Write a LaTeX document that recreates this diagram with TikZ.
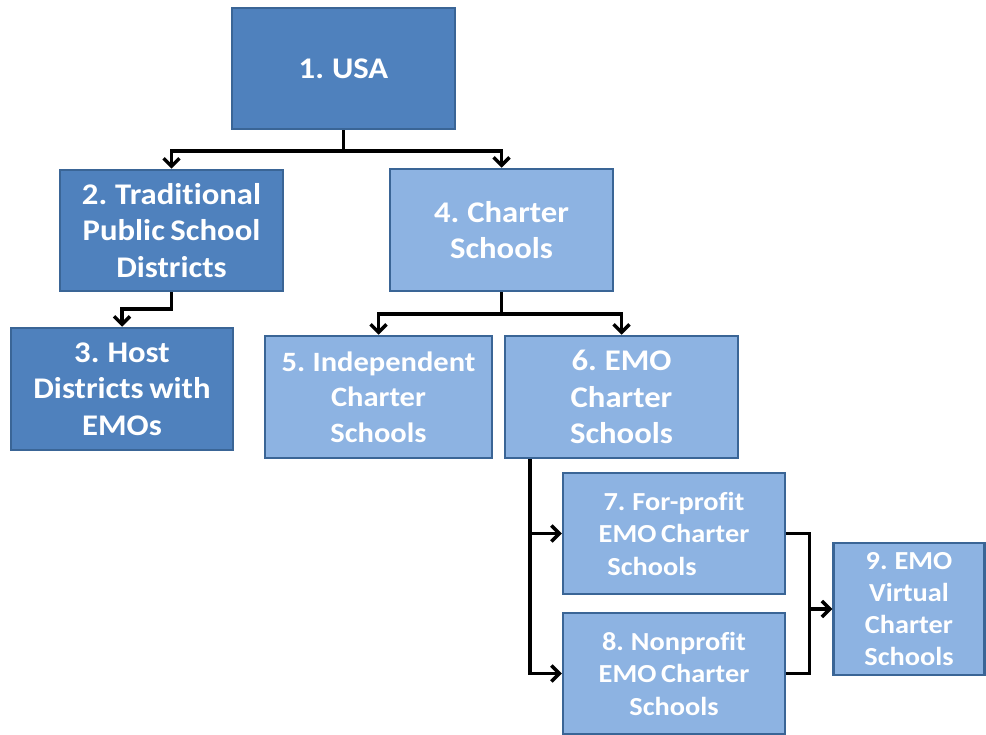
\documentclass[tikz,border=0pt]{standalone}
\usepackage{fontspec}
\setmainfont{Carlito}[Ligatures=NoCommon, FakeStretch=1.09, WordSpace=0.75]
\usetikzlibrary{arrows.meta}
\definecolor{darkfill}{HTML}{4F81BD}
\definecolor{lightfill}{HTML}{8DB3E2}
\definecolor{boxborder}{HTML}{3A6596}
\tikzset{
  box/.style={draw=boxborder, line width=2.5pt, text=white, align=center,
    font=\fontsize{30}{36.5}\selectfont\bfseries, inner sep=0pt},
  smalltext/.style={font=\fontsize{26}{32.5}\selectfont\bfseries},
  darkbox/.style={box, fill=darkfill},
  lightbox/.style={box, fill=lightfill},
  conn/.style={draw=black, line width=3.5pt},
  arr/.style={conn, -{Straight Barb[length=8pt,width=16pt,line width=3.5pt]}}
}
\begin{document}
\begin{tikzpicture}[x=1pt,y=-1pt]
\useasboundingbox (0,0) rectangle (986,735);
\node[darkbox, minimum width=223pt, minimum height=121pt] (usa) at (343.5,68.5) {1. USA};
\node[darkbox, minimum width=223pt, minimum height=121pt] (trad) at (171.5,230.5) {2. Traditional\\Public School\\Districts};
\node[darkbox, minimum width=222pt, minimum height=122pt] (host) at (122,389) {3. Host\\Districts with\\EMOs};
\node[lightbox, minimum width=223pt, minimum height=122pt] (charter) at (501.5,230) {4. Charter\\Schools};
\node[lightbox, minimum width=227pt, minimum height=122pt, font=\fontsize{28}{35.5}\selectfont\bfseries] (indep) at (378.5,397) {5. Independent\\Charter\\Schools};
\node[lightbox, minimum width=233pt, minimum height=122pt] (emo) at (621.5,397) {6. EMO\\Charter\\Schools};
\node[lightbox, smalltext, minimum width=222pt, minimum height=121pt] (fp) at (674,533.5) {7. For-profit\\EMO Charter\\Schools\hspace*{44pt}};
\node[lightbox, smalltext, minimum width=222pt, minimum height=121pt] (np) at (674,673.5) {8. Nonprofit\\EMO Charter\\Schools};
\node[lightbox, smalltext, font=\fontsize{26}{32}\selectfont\bfseries, minimum width=151pt, minimum height=132pt] (virt) at (909,609) {9. EMO\\Virtual\\Charter\\Schools};
% connectors
\draw[conn] (usa.south) -- ++(0,21) coordinate (j1);
\draw[arr] (j1) -| (trad.north);
\draw[arr] (j1) -| (charter.north);
\draw[arr] (trad.south) -- ++(0,17) -| (host.north);
\draw[conn] (charter.south) -- ++(0,22) coordinate (j2);
\draw[arr] (j2) -| (indep.north);
\draw[arr] (j2) -| (emo.north);
\coordinate (j3) at ([xshift=26pt]emo.south west);
\draw[arr] (j3) |- (fp.west);
\draw[arr] (j3) |- (np.west);
\coordinate (j4) at ([xshift=23pt]fp.east |- virt.west);
\draw[conn] (fp.east) -| (j4);
\draw[conn] (np.east) -| (j4);
\draw[arr] (j4) -- (virt.west);
\end{tikzpicture}
\end{document}
